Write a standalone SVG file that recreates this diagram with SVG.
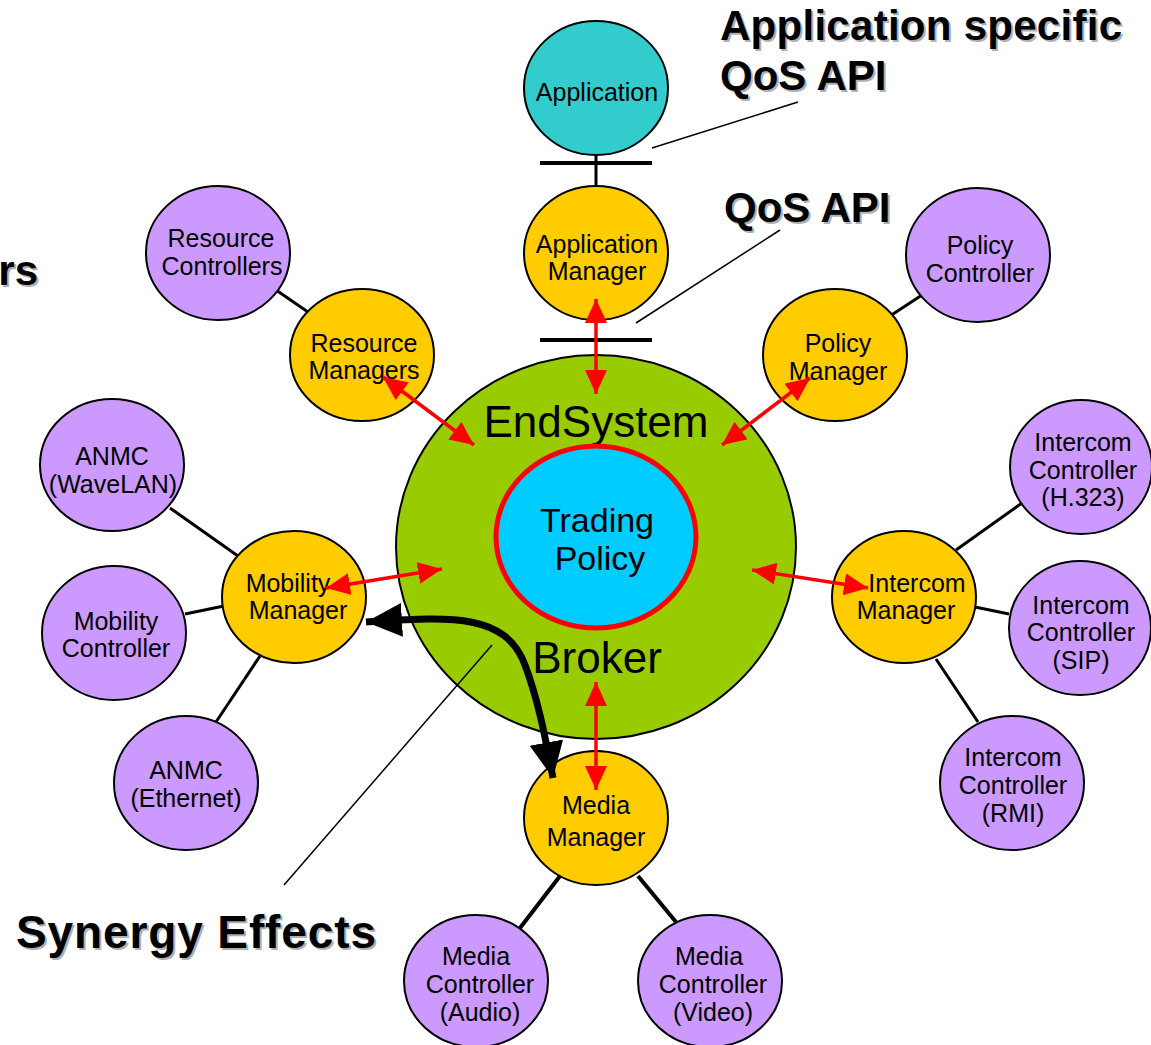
<svg xmlns="http://www.w3.org/2000/svg" width="1151" height="1045" viewBox="0 0 1151 1045">
<defs>
<style>
.n{stroke:#000;stroke-width:2}
.app{fill:#33CCCC}
.mgr{fill:#FFCC00}
.ctl{fill:#CC99FF}
.t{font-family:"Liberation Sans",Arial,sans-serif;font-size:25px;fill:#000;text-anchor:middle}
.big{font-family:"Liberation Sans",Arial,sans-serif;font-size:44px;fill:#000;text-anchor:middle}
.mid{font-family:"Liberation Sans",Arial,sans-serif;font-size:34px;fill:#000;text-anchor:middle}
.b{font-family:"Liberation Sans",Arial,sans-serif;font-size:42px;font-weight:bold}
.sh{fill:#b0b0b0}
.ln{stroke:#000;stroke-width:3;fill:none}
.lnb{stroke:#000;stroke-width:4;fill:none}
.thin{stroke:#000;stroke-width:1.5;fill:none}
.bar{stroke:#000;stroke-width:4}
.red{stroke:#FF0000;stroke-width:3.5;fill:none;marker-start:url(#ra);marker-end:url(#ra)}
.blk{stroke:#000;stroke-width:7;fill:none;marker-start:url(#ba);marker-end:url(#ba)}
</style>
<marker id="ra" markerUnits="userSpaceOnUse" markerWidth="26" markerHeight="24" refX="24" refY="11" orient="auto-start-reverse" viewBox="0 0 26 24">
<path d="M0,0 L24,11 L0,22 z" fill="#FF0000"/>
</marker>
<marker id="ba" markerUnits="userSpaceOnUse" markerWidth="40" markerHeight="36" refX="36" refY="17" orient="auto-start-reverse" viewBox="0 0 40 36">
<path d="M0,0 L36,17 L0,34 z" fill="#000"/>
</marker>
</defs>
<rect width="1151" height="1045" fill="#fff"/>

<g id="labels">
<text class="b sh" x="2" y="287" text-anchor="end" transform="translate(38,0)">rs</text>
<text class="b" x="0" y="285" text-anchor="end" transform="translate(38,0)">rs</text>
<text class="b sh" x="722" y="42" textLength="402">Application specific</text>
<text class="b" x="720" y="40" textLength="402">Application specific</text>
<text class="b sh" x="722" y="92">QoS API</text>
<text class="b" x="720" y="90">QoS API</text>
<text class="b sh" x="726" y="224">QoS API</text>
<text class="b" x="724" y="222">QoS API</text>
<text class="b sh" x="18" y="950" style="font-size:46px" textLength="360">Synergy Effects</text>
<text class="b" x="16" y="948" style="font-size:46px" textLength="360">Synergy Effects</text>
</g>

<g id="connectors-under">
<line class="ln" x1="596" y1="155" x2="596" y2="188"/>
<line class="bar" x1="540" y1="163" x2="652" y2="163"/>
<line class="bar" x1="540" y1="340" x2="652" y2="340"/>
<line class="thin" x1="652" y1="148" x2="798" y2="102"/>
<line class="thin" x1="636" y1="323" x2="780" y2="230"/>
<line class="ln" x1="276" y1="290" x2="308" y2="312"/>
<line class="ln" x1="922" y1="295" x2="890" y2="316"/>
<line class="ln" x1="170" y1="508" x2="238" y2="556"/>
<line class="ln" x1="185" y1="614" x2="224" y2="606"/>
<line class="ln" x1="216" y1="722" x2="260" y2="656"/>
<line class="ln" x1="1022" y1="503" x2="956" y2="550"/>
<line class="ln" x1="1009" y1="614" x2="975" y2="607"/>
<line class="ln" x1="978" y1="722" x2="936" y2="659"/>
<line class="lnb" x1="560" y1="876" x2="520" y2="928"/>
<line class="lnb" x1="638" y1="876" x2="676" y2="922"/>
</g>

<g id="endsystem">
<ellipse class="n" cx="596" cy="547" rx="200" ry="192" fill="#99CC00"/>
<text class="big" x="596" y="437">EndSystem</text>
<text class="big" x="597" y="673">Broker</text>
</g>
<g id="trading-policy">
<ellipse cx="596" cy="537" rx="100" ry="91" fill="#00CCFF" stroke="#FF0000" stroke-width="5"/>
<text class="mid" x="597" y="532">Trading</text>
<text class="mid" x="600" y="570">Policy</text>
</g>

<g id="application"><ellipse class="n app" cx="596" cy="88" rx="72" ry="67"/><text class="t" x="597" y="101">Application</text></g>
<g id="application-manager"><ellipse class="n mgr" cx="596" cy="253" rx="72" ry="67"/><text class="t" x="597" y="253">Application</text><text class="t" x="597" y="280">Manager</text></g>
<g id="resource-controllers"><ellipse class="n ctl" cx="218" cy="253" rx="72" ry="67"/><text class="t" x="221" y="247">Resource</text><text class="t" x="222" y="275">Controllers</text></g>
<g id="resource-managers"><ellipse class="n mgr" cx="362" cy="355" rx="72" ry="66"/><text class="t" x="364" y="352">Resource</text><text class="t" x="364" y="379">Managers</text></g>
<g id="policy-controller"><ellipse class="n ctl" cx="978" cy="255" rx="72" ry="67"/><text class="t" x="980" y="254">Policy</text><text class="t" x="980" y="282">Controller</text></g>
<g id="policy-manager"><ellipse class="n mgr" cx="835" cy="355" rx="72" ry="66"/><text class="t" x="838" y="352">Policy</text><text class="t" x="838" y="380">Manager</text></g>
<g id="anmc-wavelan"><ellipse class="n ctl" cx="112" cy="465" rx="72" ry="66"/><text class="t" x="112" y="465">ANMC</text><text class="t" x="113" y="493">(WaveLAN)</text></g>
<g id="mobility-controller"><ellipse class="n ctl" cx="114" cy="633" rx="72" ry="67"/><text class="t" x="116" y="630">Mobility</text><text class="t" x="116" y="657">Controller</text></g>
<g id="anmc-ethernet"><ellipse class="n ctl" cx="186" cy="783" rx="72" ry="67"/><text class="t" x="186" y="779">ANMC</text><text class="t" x="186" y="807">(Ethernet)</text></g>
<g id="mobility-manager"><ellipse class="n mgr" cx="294" cy="597" rx="72" ry="66"/><text class="t" x="288" y="592">Mobility</text><text class="t" x="298" y="619">Manager</text></g>
<g id="intercom-manager"><ellipse class="n mgr" cx="904" cy="597" rx="72" ry="66"/><text class="t" x="917" y="592">Intercom</text><text class="t" x="906" y="619">Manager</text></g>
<g id="intercom-h323"><ellipse class="n ctl" cx="1081" cy="467" rx="71" ry="67"/><text class="t" x="1083" y="451">Intercom</text><text class="t" x="1083" y="479">Controller</text><text class="t" x="1083" y="506">(H.323)</text></g>
<g id="intercom-sip"><ellipse class="n ctl" cx="1080" cy="628" rx="71" ry="67"/><text class="t" x="1081" y="614">Intercom</text><text class="t" x="1081" y="641">Controller</text><text class="t" x="1081" y="669">(SIP)</text></g>
<g id="intercom-rmi"><ellipse class="n ctl" cx="1012" cy="783" rx="72" ry="67"/><text class="t" x="1013" y="766">Intercom</text><text class="t" x="1013" y="794">Controller</text><text class="t" x="1013" y="822">(RMI)</text></g>
<g id="media-manager"><ellipse class="n mgr" cx="596" cy="818" rx="72" ry="67"/><text class="t" x="596" y="814">Media</text><text class="t" x="596" y="846">Manager</text></g>
<g id="media-audio"><ellipse class="n ctl" cx="476" cy="981" rx="72" ry="66"/><text class="t" x="476" y="965">Media</text><text class="t" x="480" y="993">Controller</text><text class="t" x="480" y="1021">(Audio)</text></g>
<g id="media-video"><ellipse class="n ctl" cx="710" cy="981" rx="72" ry="66"/><text class="t" x="709" y="965">Media</text><text class="t" x="713" y="993">Controller</text><text class="t" x="713" y="1021">(Video)</text></g>

<g id="connectors">
<line class="thin" x1="284" y1="885" x2="492" y2="645"/>
<line class="red" x1="596" y1="299" x2="596" y2="394"/>
<line class="red" x1="383" y1="377" x2="474" y2="445"/>
<line class="red" x1="810" y1="378" x2="722" y2="445"/>
<line class="red" x1="326" y1="588" x2="442" y2="569"/>
<line class="red" x1="752" y1="570" x2="868" y2="588"/>
<line class="red" x1="596" y1="682" x2="596" y2="790"/>
<path class="blk" d="M366,622 C450,617 505,612 525,665 C537,697 544,730 553,778"/>
</g>
</svg>
